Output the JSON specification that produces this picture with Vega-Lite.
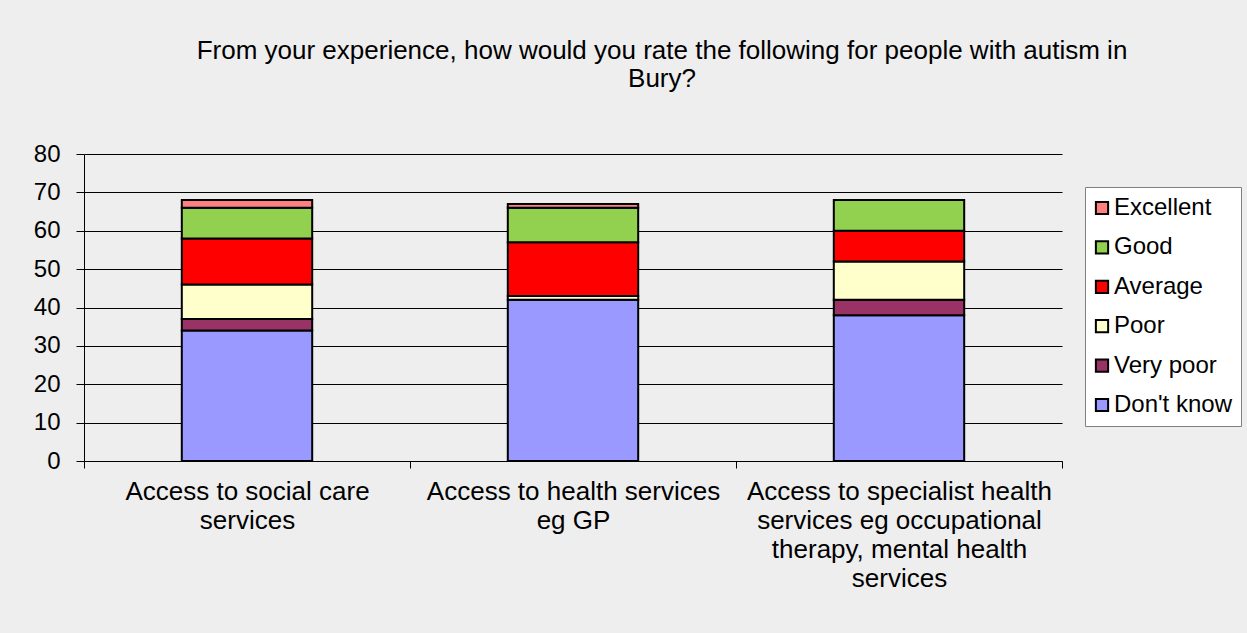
{
  "$schema": "https://vega.github.io/schema/vega-lite/v6.json",
  "width": 978,
  "height": 307,
  "autosize": {"type": "none"},
  "padding": {"left": 84, "top": 154, "right": 185, "bottom": 172},
  "background": "#eeeeee",
  "config": {
    "font": "Liberation Sans",
    "view": {"stroke": null},
    "axis": {"labelColor": "black", "titleColor": "black"}
  },
  "title": {
    "text": ["From your experience, how would you rate the following for people with autism in", "Bury?"],
    "fontSize": 26,
    "fontWeight": "normal",
    "font": "Liberation Sans",
    "color": "black",
    "lineHeight": 28,
    "anchor": "middle",
    "dx": 89,
    "offset": 50
  },
  "data": {
    "values": [
      {"category": "Access to social care|services", "rating": "Don't know", "ord": 1, "value": 34},
      {"category": "Access to social care|services", "rating": "Very poor", "ord": 2, "value": 3},
      {"category": "Access to social care|services", "rating": "Poor", "ord": 3, "value": 9},
      {"category": "Access to social care|services", "rating": "Average", "ord": 4, "value": 12},
      {"category": "Access to social care|services", "rating": "Good", "ord": 5, "value": 8},
      {"category": "Access to social care|services", "rating": "Excellent", "ord": 6, "value": 2},
      {"category": "Access to health services|eg GP", "rating": "Don't know", "ord": 1, "value": 42},
      {"category": "Access to health services|eg GP", "rating": "Very poor", "ord": 2, "value": 0},
      {"category": "Access to health services|eg GP", "rating": "Poor", "ord": 3, "value": 1},
      {"category": "Access to health services|eg GP", "rating": "Average", "ord": 4, "value": 14},
      {"category": "Access to health services|eg GP", "rating": "Good", "ord": 5, "value": 9},
      {"category": "Access to health services|eg GP", "rating": "Excellent", "ord": 6, "value": 1},
      {"category": "Access to specialist health|services eg occupational|therapy, mental health|services", "rating": "Don't know", "ord": 1, "value": 38},
      {"category": "Access to specialist health|services eg occupational|therapy, mental health|services", "rating": "Very poor", "ord": 2, "value": 4},
      {"category": "Access to specialist health|services eg occupational|therapy, mental health|services", "rating": "Poor", "ord": 3, "value": 10},
      {"category": "Access to specialist health|services eg occupational|therapy, mental health|services", "rating": "Average", "ord": 4, "value": 8},
      {"category": "Access to specialist health|services eg occupational|therapy, mental health|services", "rating": "Good", "ord": 5, "value": 8},
      {"category": "Access to specialist health|services eg occupational|therapy, mental health|services", "rating": "Excellent", "ord": 6, "value": 0}
    ]
  },
  "transform": [{"filter": "datum.value > 0"}],
  "mark": {"type": "bar", "stroke": "black", "strokeWidth": 2, "width": {"band": 0.4}},
  "encoding": {
    "x": {
      "field": "category",
      "type": "nominal",
      "sort": null,
      "scale": {"paddingInner": 0, "paddingOuter": 0},
      "axis": {
        "title": null,
        "labelAngle": 0,
        "labelExpr": "split(datum.label, '|')",
        "labelFontSize": 26,
        "labelLineHeight": 29,
        "labelPadding": 10,
        "labelLimit": 400,
        "domainColor": "black",
        "domainWidth": 1,
        "tickColor": "black",
        "tickSize": 7,
        "tickBand": "extent",
        "grid": false
      }
    },
    "y": {
      "field": "value",
      "type": "quantitative",
      "stack": "zero",
      "scale": {"domain": [0, 80], "nice": false},
      "axis": {
        "title": null,
        "values": [0, 10, 20, 30, 40, 50, 60, 70, 80],
        "labelFontSize": 24,
        "labelPadding": 16,
        "tickSize": 8,
        "tickColor": "black",
        "domainColor": "black",
        "gridColor": "black",
        "gridOpacity": 1,
        "gridWidth": 1
      }
    },
    "color": {
      "field": "rating",
      "type": "nominal",
      "scale": {
        "domain": ["Excellent", "Good", "Average", "Poor", "Very poor", "Don't know"],
        "range": ["#ff8080", "#92d050", "#ff0000", "#ffffcc", "#993366", "#9999ff"]
      },
      "legend": {
        "title": null,
        "orient": "none",
        "legendX": 1001,
        "legendY": 33,
        "fillColor": "white",
        "strokeColor": "#808080",
        "padding": 9,
        "labelFontSize": 24,
        "labelColor": "black",
        "symbolType": "square",
        "symbolSize": 150,
        "symbolOffset": -4,
        "symbolStrokeColor": "black",
        "symbolStrokeWidth": 2,
        "symbolOpacity": 1,
        "rowPadding": 15.4,
        "labelOffset": 0
      }
    },
    "order": {"field": "ord", "type": "quantitative"}
  }
}
